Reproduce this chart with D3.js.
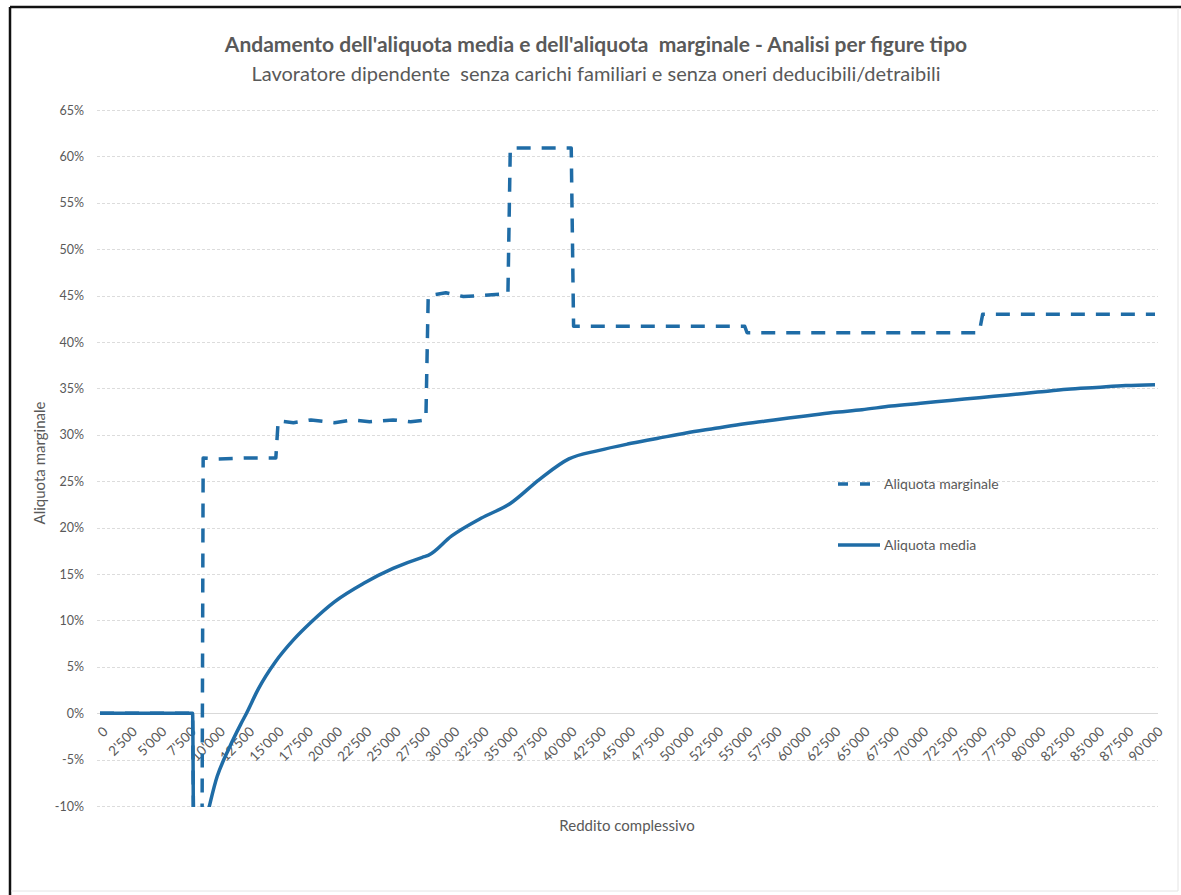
<!DOCTYPE html>
<html>
<head>
<meta charset="utf-8">
<script src="https://cdn.jsdelivr.net/npm/d3@7"></script>
<style>
	html, body { margin: 0; padding: 0; background: #fff; }
	svg text { font-family: Lato, "Open Sans", sans-serif; fill: #595959; white-space: pre; }
</style>
</head>
<body>
<div id="container"></div>
<script>
// reddito complessivo (euro) and aliquota marginale (%)
var redditoMarg = [0, 7900, 8000, 8700, 8800, 10000, 12500, 15000, 15200, 16500, 18000, 20000, 21500, 23000, 25000, 26500, 27800, 28000, 29500, 31000, 32500, 34800, 35000, 40200, 40400, 55000, 55200, 75000, 75300, 90000];
var aliquotaMarg = [0, 0, -15, -15, 27.5, 27.4, 27.5, 27.5, 31.5, 31.3, 31.6, 31.3, 31.6, 31.4, 31.6, 31.4, 31.6, 45.0, 45.3, 44.9, 45.0, 45.2, 60.9, 60.9, 41.7, 41.7, 41.0, 41.0, 43.0, 43.0];

// reddito complessivo (euro) and aliquota media (%)
var redditoMedia = [0, 7900, 8000, 8800, 10000, 11000, 12000, 12500, 13500, 15000, 16500, 18000, 20000, 22500, 25000, 27500, 28000, 30000, 32500, 35000, 37500, 40000, 42500, 45000, 47500, 50000, 52500, 55000, 57500, 60000, 62500, 65000, 67500, 70000, 72500, 75000, 77500, 80000, 82500, 85000, 87500, 90000];
var aliquotaMedia = [0, 0, -15, -12.5, -6.8, -3.8, -1.2, 0, 2.6, 5.6, 7.9, 9.8, 12.0, 14.0, 15.6, 16.8, 17.0, 19.1, 21.0, 22.6, 25.2, 27.4, 28.3, 29.0, 29.6, 30.2, 30.7, 31.2, 31.6, 32.0, 32.4, 32.7, 33.1, 33.4, 33.7, 34.0, 34.3, 34.6, 34.9, 35.1, 35.3, 35.4];

var yTicks = [-10, -5, 0, 5, 10, 15, 20, 25, 30, 35, 40, 45, 50, 55, 60, 65];
var xTickLabels = ["0", "2'500", "5'000", "7'500", "10'000", "12'500", "15'000", "17'500", "20'000", "22'500",
	"25'000", "27'500", "30'000", "32'500", "35'000", "37'500", "40'000", "42'500", "45'000", "47'500",
	"50'000", "52'500", "55'000", "57'500", "60'000", "62'500", "65'000", "67'500", "70'000", "72'500",
	"75'000", "77'500", "80'000", "82'500", "85'000", "87'500", "90'000"];

var seriesNames = ["Aliquota marginale", "Aliquota media"];

var W = 1181, H = 895;
var lineColor = "#1f6ca6";

var x = d3.scaleLinear().domain([0, 90000]).range([100, 1155]);
var y = d3.scaleLinear().domain([-10, 65]).range([806, 110]);

var svg = d3.select("#container").append("svg")
	.attr("width", W)
	.attr("height", H);

// frame
svg.append("line").attr("x1", 10).attr("y1", 7).attr("x2", W).attr("y2", 7)
	.attr("stroke", "#111").attr("stroke-width", 2.5);
svg.append("line").attr("x1", 10).attr("y1", 7).attr("x2", 10).attr("y2", H)
	.attr("stroke", "#111").attr("stroke-width", 2.5);
svg.append("line").attr("x1", 1178).attr("y1", 8).attr("x2", 1178).attr("y2", 891)
	.attr("stroke", "#e4e4e4").attr("stroke-width", 1);
svg.append("line").attr("x1", 11).attr("y1", 891).attr("x2", 1178).attr("y2", 891)
	.attr("stroke", "#e4e4e4").attr("stroke-width", 1);

// titles
svg.append("text")
	.attr("x", 596).attr("y", 52)
	.attr("text-anchor", "middle")
	.style("font-size", "21px").style("font-weight", "bold")
	.text("Andamento dell'aliquota media e dell'aliquota  marginale - Analisi per figure tipo");
svg.append("text")
	.attr("x", 596).attr("y", 81)
	.attr("text-anchor", "middle")
	.style("font-size", "20px")
	.text("Lavoratore dipendente  senza carichi familiari e senza oneri deducibili/detraibili");

// gridlines
var grid = svg.append("g").attr("class", "grid");
grid.selectAll("line")
	.data(yTicks)
	.enter().append("line")
	.attr("x1", 97).attr("x2", 1158)
	.attr("y1", function(d) { return Math.round(y(d)) + 0.5; })
	.attr("y2", function(d) { return Math.round(y(d)) + 0.5; })
	.attr("stroke", function(d) { return d === 0 ? "#d9d9d9" : "#dcdcdc"; })
	.attr("stroke-width", 1)
	.attr("stroke-dasharray", function(d) { return d === 0 ? null : "3,2"; });

// y axis labels
var yAxis = d3.axisLeft(y)
	.tickValues(yTicks)
	.tickSize(0)
	.tickPadding(0)
	.tickFormat(function(d) { return d + "%"; });

svg.append("g")
	.attr("class", "y axis")
	.attr("transform", "translate(84,0)")
	.call(yAxis)
	.call(function(g) { g.select(".domain").remove(); })
	.selectAll("text")
	.style("font-size", "12.5px")
	.style("fill", "#595959")
	.style("font-family", "Lato, sans-serif");

// x axis labels (rotated)
var xAxis = d3.axisBottom(x)
	.tickValues(xTickLabels.map(function(l) { return +l.replace("'", ""); }))
	.tickSize(0)
	.tickPadding(0)
	.tickFormat(function(d, i) { return xTickLabels[i]; });

var xg = svg.append("g")
	.attr("class", "x axis")
	.attr("transform", "translate(0," + y(0) + ")")
	.call(xAxis);
xg.select(".domain").remove();
xg.selectAll("text")
	.attr("y", 0).attr("dy", "0.35em")
	.attr("transform", "translate(5,16) rotate(-45)")
	.style("text-anchor", "end")
	.style("font-size", "13.5px")
	.style("fill", "#595959")
	.style("font-family", "Lato, sans-serif");

// axis titles
svg.append("text")
	.attr("x", 627).attr("y", 831)
	.attr("text-anchor", "middle")
	.style("font-size", "15px")
	.text("Reddito complessivo");
svg.append("text")
	.attr("transform", "translate(45,463) rotate(-90)")
	.attr("text-anchor", "middle")
	.style("font-size", "15px")
	.text("Aliquota marginale");

// clip
svg.append("defs").append("clipPath")
	.attr("id", "plotClip")
	.append("rect")
	.attr("x", 90).attr("y", y(65) - 5)
	.attr("width", 1080).attr("height", y(-10) - y(65) + 6);

var lineMarg = d3.line()
	.x(function(d) { return x(d[0]); })
	.y(function(d) { return y(d[1]); });

var lineMedia = d3.line()
	.curve(d3.curveMonotoneX)
	.x(function(d) { return x(d[0]); })
	.y(function(d) { return y(d[1]); });

var plot = svg.append("g").attr("clip-path", "url(#plotClip)");

plot.append("path")
	.datum(d3.zip(redditoMedia, aliquotaMedia))
	.attr("d", lineMedia)
	.attr("fill", "none")
	.attr("stroke", lineColor)
	.attr("stroke-width", 3.5)
	.attr("stroke-linejoin", "round");

plot.append("path")
	.datum(d3.zip(redditoMarg, aliquotaMarg))
	.attr("d", lineMarg)
	.attr("fill", "none")
	.attr("stroke", lineColor)
	.attr("stroke-width", 3.5)
	.attr("stroke-dasharray", "14,11")
	.attr("stroke-linejoin", "round");

// legend
var legend = svg.append("g").attr("class", "legend");
var legendY = [484, 545];
seriesNames.forEach(function(name, i) {
	legend.append("line")
		.attr("x1", 838).attr("x2", 880)
		.attr("y1", legendY[i]).attr("y2", legendY[i])
		.attr("stroke", lineColor)
		.attr("stroke-width", 3.5)
		.attr("stroke-dasharray", i === 0 ? "10,12" : null);
	legend.append("text")
		.attr("x", 884).attr("y", legendY[i])
		.attr("dy", "0.35em")
		.style("font-size", "14px")
		.text(name);
});
</script>
</body>
</html>
